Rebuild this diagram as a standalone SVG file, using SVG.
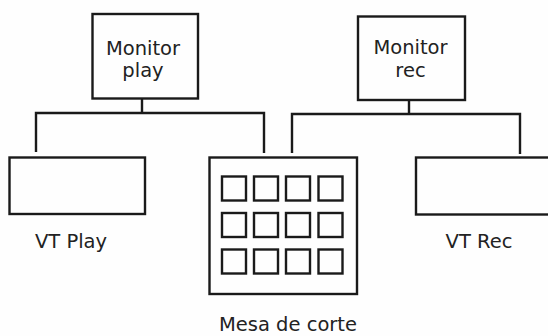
<svg xmlns="http://www.w3.org/2000/svg" width="548" height="336" viewBox="0 0 548 336">
<style>
.b{fill:none;stroke:#1a1a1a;stroke-width:2.4}
.k{fill:none;stroke:#1a1a1a;stroke-width:2.4}
.c{fill:none;stroke:#1a1a1a;stroke-width:2.4}
text{font-family:"DejaVu Sans",Verdana,sans-serif;font-size:19.5px;fill:#222;text-anchor:middle}
</style>
<rect width="548" height="336" fill="#fefefe"/>
<g id="connectors">
<path class="c" d="M142 98V113M36 152V113H264V153"/>
<path class="c" d="M409 100V114M292 153V114H520V154"/>
</g>
<g id="monitor-play">
<rect class="b" x="92.5" y="14" width="105.5" height="84.5"/>
<text x="143" y="55">Monitor</text>
<text x="143" y="77">play</text>
</g>
<g id="monitor-rec">
<rect class="b" x="358" y="16.5" width="107" height="83.5"/>
<text x="410.5" y="54">Monitor</text>
<text x="410.5" y="77">rec</text>
</g>
<g id="vt-play">
<rect class="b" x="9.5" y="157.5" width="135.5" height="56.5"/>
<text x="71" y="248">VT Play</text>
</g>
<g id="vt-rec">
<rect class="b" x="416" y="157.5" width="150" height="57"/>
<text x="479" y="248">VT Rec</text>
</g>
<g id="mesa-de-corte">
<rect class="b" x="209.5" y="157.5" width="147.5" height="136.5"/>
<g class="k">
<rect x="222" y="176.5" width="24" height="24"/><rect x="254" y="176.5" width="24" height="24"/><rect x="286" y="176.5" width="24" height="24"/><rect x="318.5" y="176.5" width="24" height="24"/>
<rect x="222" y="213" width="24" height="24"/><rect x="254" y="213" width="24" height="24"/><rect x="286" y="213" width="24" height="24"/><rect x="318.5" y="213" width="24" height="24"/>
<rect x="222" y="249.5" width="24" height="24"/><rect x="254" y="249.5" width="24" height="24"/><rect x="286" y="249.5" width="24" height="24"/><rect x="318.5" y="249.5" width="24" height="24"/>
</g>
<text x="288" y="331">Mesa de corte</text>
</g>
</svg>
